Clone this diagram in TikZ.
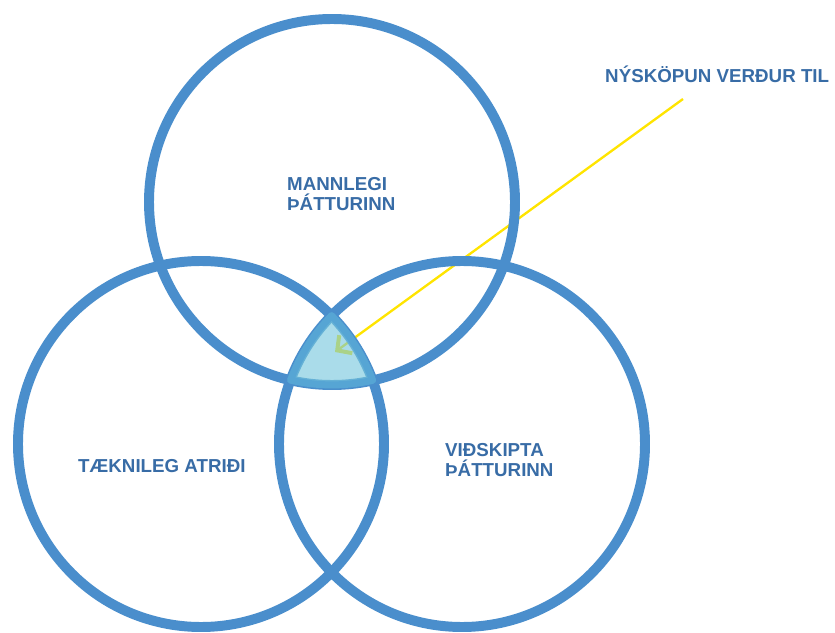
\documentclass[tikz,border=0pt]{standalone}
\usepackage{fontspec}
\setmainfont{Liberation Sans}
\usetikzlibrary{arrows.meta}
\definecolor{ringblue}{RGB}{74,142,204}
\definecolor{coreblue}{RGB}{86,165,212}
\definecolor{corefill}{RGB}{118,199,221}
\definecolor{labelblue}{RGB}{56,108,166}
\definecolor{pointer}{RGB}{255,228,0}
\tikzset{
  ring/.style={draw=ringblue, line width=8.5pt},
  core/.style={draw=coreblue, line width=6pt, fill=corefill, fill opacity=0.62, line join=round},
  label/.style={text=labelblue, inner sep=0pt, align=left,
    font={\fontsize{16pt}{17pt}\selectfont\bfseries}},
  callout/.style={draw=pointer, line width=2pt,
    -{Straight Barb[length=9pt,width=19pt,line width=3.4pt]}}
}
\begin{document}
\begin{tikzpicture}[x=0.03cm,y=0.03cm]
  \useasboundingbox (0,0) rectangle (835,632);
  % circle centres
  \coordinate (cT) at (332,430);
  \coordinate (cL) at (201,188);
  \coordinate (cR) at (462,188);
  % pointer from the caption into the common region
  \coordinate (from) at (683,533);
  \coordinate (tip) at (335,280);
  \draw[callout] (from) -- (tip);
  % the three circles
  \draw[ring] (cT) circle[radius=183];
  \draw[ring] (cL) circle[radius=183];
  \draw[ring] (cR) circle[radius=183];
  % common region of all three circles
  \path[core] (331.5,316.3)
    arc[start angle=135.5, end angle=159.59, radius=183]
    arc[start angle=-103.11, end angle=-77.18, radius=183]
    arc[start angle=20.33, end angle=44.5, radius=183] -- cycle;
  % labels
  \node[label, anchor=north west] (human) at (287,455)
    {MANNLEGI\\ÞÁTTURINN};
  \node[label, anchor=north west] (business) at (445,189)
    {VIÐSKIPTA\\ÞÁTTURINN};
  \node[label, anchor=base west] (tech) at (78,160) {TÆKNILEG ATRIÐI};
  \node[label, anchor=base west] (caption) at (605,549) {NÝSKÖPUN VERÐUR TIL};
\end{tikzpicture}
\end{document}
